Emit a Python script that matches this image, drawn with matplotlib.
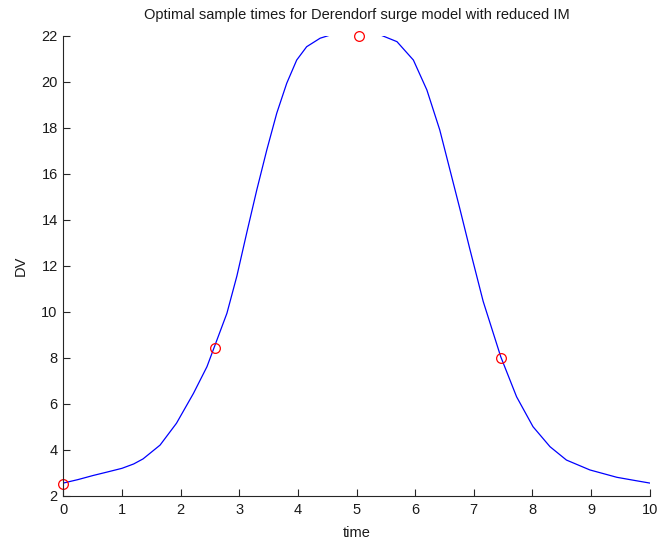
import matplotlib
matplotlib.use("Agg")
import matplotlib.pyplot as plt

plt.rcParams['font.family'] = ['Liberation Sans', 'DejaVu Sans']

# curva do modelo
t_curve = [0, 0.25, 0.51, 0.75, 1.0, 1.2, 1.36, 1.65, 1.93, 2.22, 2.45, 2.57,
           2.79, 2.96, 3.13, 3.30, 3.47, 3.64, 3.81, 3.98, 4.15, 4.38, 4.58,
           4.8, 5.0, 5.2, 5.39, 5.69, 5.97, 6.20, 6.42, 6.59, 6.76, 6.93,
           7.04, 7.16, 7.46, 7.73, 8.01, 8.30, 8.58, 8.98, 9.44, 9.75, 10.0]
dv_curve = [2.55, 2.7, 2.88, 3.03, 3.19, 3.38, 3.6, 4.2, 5.15, 6.45, 7.61, 8.43,
            9.93, 11.55, 13.45, 15.3, 17.03, 18.63, 19.93, 20.94, 21.52,
            21.89, 22.05, 22.2, 22.25, 22.18, 22.05, 21.74, 20.94, 19.64,
            17.9, 16.2, 14.5, 12.75, 11.65, 10.45, 8.04, 6.3, 5.0, 4.13, 3.55,
            3.12, 2.8, 2.66, 2.55]

# tempos de amostragem ótimos
t_opt = [0, 2.58, 5.04, 7.47]
dv_opt = [2.5, 8.4, 22.0, 8.0]

fig = plt.figure(figsize=(6.58, 5.43), dpi=100)
ax = fig.add_axes([0.0962, 0.0871, 0.8912, 0.8472])

ax.plot(t_curve, dv_curve, color='#0000ff', lw=0.9)
ax.plot(t_opt, dv_opt, 'o', mfc='none', mec='#ff0000', ms=7, mew=0.9, clip_on=False)

ax.set_xlim(0, 10)
ax.set_ylim(2, 22)
ax.set_xticks(range(0, 11))
ax.set_yticks(range(2, 23, 2))

for side in ['top', 'right']:
    ax.spines[side].set_visible(False)
for side in ['left', 'bottom']:
    ax.spines[side].set_color('#262626')
    ax.spines[side].set_linewidth(0.8)

ax.tick_params(direction='in', length=5, width=0.8, color='#262626',
               labelsize=10.5, labelcolor='#1a1a1a')
ax.tick_params(axis='x', pad=5)
ax.tick_params(axis='y', pad=4)

ax.set_title("Optimal sample times for Derendorf surge model with reduced IM",
             fontsize=10.5, color='#1a1a1a', pad=12)
ax.set_xlabel("time", fontsize=10.5, color='#1a1a1a', labelpad=7)
ax.set_ylabel("DV", fontsize=10.5, color='#1a1a1a', labelpad=10)

fig.savefig("out.png", dpi=100)
plt.close(fig)
